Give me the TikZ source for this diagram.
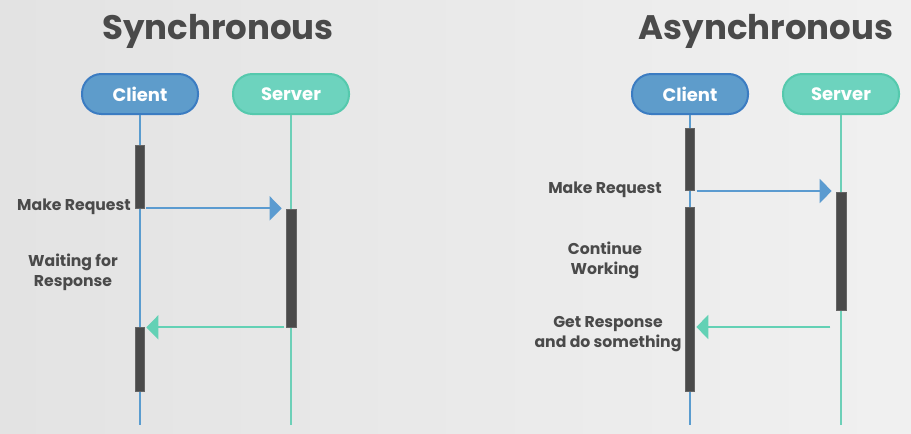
\documentclass[tikz,border=0pt]{standalone}
\usepackage{fontspec}
\setmainfont{Poppins}
\usetikzlibrary{arrows.meta}
\begin{document}
\begin{tikzpicture}[
        x=0.75pt, y=-0.75pt,
        title/.style={font=\fontsize{25.5}{30}\selectfont\bfseries, text=inkg},
        pill/.style={rounded corners=14.5pt, line width=1.5pt, minimum width=87pt, minimum height=30pt,
          text=white, font=\fontsize{13.5}{16}\selectfont\bfseries, inner sep=0pt},
        cpill/.style={pill, draw=cborder, fill=cfill},
        spill/.style={pill, draw=sborder, fill=sfill},
        cline/.style={draw=cline, line width=0.8pt},
        sline/.style={draw=sline, line width=0.8pt},
        bar/.style={fill=barg, draw=barg!85!white, line width=0.5pt, minimum width=7pt, inner sep=0pt},
        req/.style={draw=reqc, line width=1.5pt, -{Triangle[length=9pt, width=18pt]}},
        resp/.style={draw=respc, line width=1.5pt, -{Triangle[length=9pt, width=18pt]}},
        lab/.style={font=\fontsize{11.75}{15}\selectfont\bfseries, text=inkg, align=center, inner sep=0pt},
      ]
      \definecolor{inkg}{HTML}{4A4A4A}
      \definecolor{cfill}{HTML}{5E9CCB}
      \definecolor{cborder}{HTML}{3B7CC2}
      \definecolor{sfill}{HTML}{6DD3BE}
      \definecolor{sborder}{HTML}{55C9AD}
      \definecolor{cline}{HTML}{5A9CCF}
      \definecolor{sline}{HTML}{6DD0B8}
      \definecolor{barg}{HTML}{4A4A4A}
      \definecolor{reqc}{HTML}{5B9BD0}
      \definecolor{respc}{HTML}{63D1B5}
      \definecolor{bgg}{HTML}{EAEAEA}
      \path[use as bounding box, left color=bgg!97!black, right color=bgg!70!white] (0,0) rectangle (911,433);
      % titles
      \node[title] (tsync) at (218,31) {Synchronous};
      \node[title] (tasync) at (766,31) {Asynchronous};
      % actors
      \node[cpill] (sc) at (140,94) {Client};
      \node[spill] (ss) at (291,94) {Server};
      \node[cpill] (ac) at (690,94) {Client};
      \node[spill] (as) at (841,94) {Server};
      % lifelines
      \coordinate (scend) at (140,425);
      \coordinate (ssend) at (291,425);
      \coordinate (acend) at (690,425);
      \coordinate (asend) at (841,425);
      \draw[cline] (sc.south) -- (scend);
      \draw[sline] (ss.south) -- (ssend);
      \draw[cline] (ac.south) -- (acend);
      \draw[sline] (as.south) -- (asend);
      % activation bars
      \node[bar, minimum height=47.25pt] (scbarA) at (140,176.5) {};
      \node[bar, minimum height=88.5pt, minimum width=7.5pt] (ssbarA) at (291,268) {};
      \node[bar, minimum height=48pt] (scbarB) at (140,359) {};
      \node[bar, minimum height=46.5pt] (acbarA) at (690,159) {};
      \node[bar, minimum height=138pt] (acbarB) at (690,299) {};
      \node[bar, minimum height=88.5pt, minimum width=7.5pt] (asbarA) at (841,251) {};
      % messages
      \draw[req, shorten <=1pt, shorten >=3pt] (scbarA.south east) -- (scbarA.south east -| ssbarA.west);
      \draw[resp, shorten <=1pt, shorten >=1pt] (ssbarA.south west) -- (ssbarA.south west -| scbarB.east);
      \coordinate (areq) at (690,191);
      \coordinate (aresp) at (841,327);
      \draw[req, shorten <=5pt, shorten >=3pt] (areq) -- (areq -| asbarA.west);
      \draw[resp, shorten <=8pt, shorten >=1pt] (aresp) -- (aresp -| acbarB.east);
      % labels
      \node[lab, anchor=east] (lsreq) at (131,207) {Make Request};
      \node[lab] (lswait) at (73,272) {Waiting for\\Response};
      \node[lab] (lareq) at (605,190) {Make Request};
      \node[lab] (lawork) at (605,260) {Continue\\Working};
      \node[lab] (laresp) at (608,334) {Get Response\\and do something};
    \end{tikzpicture}
\end{document}
